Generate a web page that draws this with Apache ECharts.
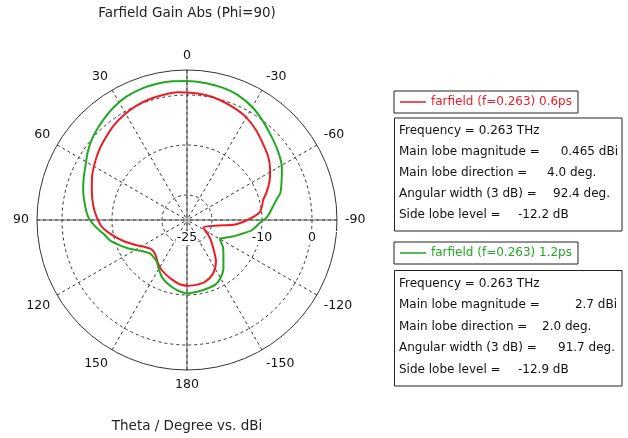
<!DOCTYPE html>
<html>
<head>
<meta charset="utf-8">
<title>Farfield Gain Abs</title>
<script src="https://cdn.jsdelivr.net/npm/echarts@6/dist/echarts.min.js"></script>
<style>html,body{margin:0;background:#fff;}</style>
</head>
<body>
<div id="main" style="width:628px;height:438px;"></div>
<script type="text/javascript">
// theta in degrees (-180..180), gain in dBi
var thetaRed = [-180, -172, -164, -154, -145, -137, -130, -125, -115, -100, -96, -92, -88, -84, -80, -75, -71, -65, -59, -52, -45, -38, -30, -23, -15, -8, 0, 4, 10, 17, 24, 31, 38, 45, 52, 59, 66, 73, 81, 88, 95, 102, 109, 116, 122, 128, 134, 140, 146, 152, 159, 166, 173, 180];
var gainRed = [-11.8, -11.9, -12.1, -13.1, -14.9, -17.3, -18.8, -19.8, -21.4, -18.6, -15.7, -13.8, -12.0, -10.4, -9.8, -9.2, -8.2, -6.8, -5.6, -4.4, -3.5, -2.4, -1.3, -0.7, -0.1, 0.3, 0.5, 0.6, 0.5, 0.3, 0.0, -0.5, -1.1, -1.9, -2.6, -3.4, -4.2, -5.1, -6.0, -6.9, -8.0, -9.9, -11.8, -13.6, -14.9, -15.7, -15.8, -15.4, -14.6, -13.9, -13.3, -12.7, -12.1, -11.8];

var thetaGreen = [-180, -172, -164, -156, -150, -143, -135, -127, -120, -115, -110, -106, -99, -91, -88, -82, -77, -74, -68, -61, -53, -45, -37, -30, -22, -15, -8, 0, 6, 12, 19, 26, 33, 40, 45, 50, 56, 62, 68, 74, 81, 88, 94, 100, 105, 110, 116, 121, 126, 132, 138, 144, 150, 156, 162, 169, 175, 180];
var gainGreen = [-10.3, -10.5, -10.7, -10.9, -11.6, -12.9, -14.7, -16.0, -17.4, -16.6, -15.3, -14.3, -11.9, -10.1, -9.0, -7.8, -6.6, -5.6, -4.6, -3.3, -2.2, -1.2, 0.0, 1.1, 2.0, 2.4, 2.6, 2.8, 2.9, 2.9, 2.8, 2.5, 1.9, 1.1, 0.5, -0.1, -1.0, -2.0, -2.7, -3.4, -4.3, -5.2, -6.6, -8.2, -9.1, -10.5, -12.0, -13.3, -14.3, -15.0, -15.0, -14.7, -13.7, -12.6, -11.8, -11.1, -10.6, -10.3];

var nameRed = 'farfield (f=0.263) 0.6ps';
var nameGreen = 'farfield (f=0.263) 1.2ps';
var radiusLabels = [-25, -10, 0];
var infoLabels = ['Frequency = ', 'Main lobe magnitude =', 'Main lobe direction =', 'Angular width (3 dB) =', 'Side lobe level ='];
var infoRed = ['0.263 THz', '0.465 dBi', '4.0 deg.', '92.4 deg.', '-12.2 dB'];
var infoGreen = ['0.263 THz', '2.7 dBi', '2.0 deg.', '91.7 deg.', '-12.9 dB'];

var RED = '#ec1c24';
var GREEN = '#22a822';
var FONT = '"DejaVu Sans", Verdana, sans-serif';
var CX = 187, CY = 220;

function toAxis(t) {
    return t < -90 ? t + 360 : t;
}
function buildData(thetas, gains) {
    return thetas.map(function (t, i) {
        return [gains[i], toAxis(t)];
    });
}

// info boxes
function infoBox(top, height, values, valueX, valueAlign, step) {
    var els = [{
        type: 'rect',
        shape: {x: 394.5, y: top + 0.5, width: 227.5, height: height},
        style: {fill: '#fff', stroke: '#222', lineWidth: 1}
    }];
    for (var i = 0; i < infoLabels.length; i++) {
        var y = top + 13.5 + i * step;
        if (valueX[i] === null) {
            els.push({type: 'text', style: {text: infoLabels[i] + values[i], x: 399, y: y,
                font: '12px ' + FONT, fill: '#111', verticalAlign: 'middle'}});
        } else {
            els.push({type: 'text', style: {text: infoLabels[i], x: 399, y: y,
                font: '12px ' + FONT, fill: '#111', verticalAlign: 'middle'}});
            els.push({type: 'text', style: {text: values[i], x: valueX[i], y: y, align: valueAlign[i],
                font: '12px ' + FONT, fill: '#111', verticalAlign: 'middle'}});
        }
    }
    return els;
}

var myChart = echarts.init(document.getElementById('main'));

var option = {
    backgroundColor: '#fff',
    animation: false,
    title: [{
        text: 'Farfield Gain Abs (Phi=90)',
        left: CX, top: 6, padding: 0, textAlign: 'center',
        textStyle: {fontSize: 13.5, fontWeight: 'normal', fontFamily: FONT, color: '#222'}
    }, {
        text: 'Theta / Degree vs. dBi',
        left: CX, top: 419, padding: 0, textAlign: 'center',
        textStyle: {fontSize: 13.5, fontWeight: 'normal', fontFamily: FONT, color: '#222'}
    }],
    legend: [{
        data: [nameRed], left: 394, top: 91,
        padding: [5, 6, 5, 6], borderColor: '#222', borderWidth: 1,
        icon: 'rect', itemWidth: 26, itemHeight: 1.5,
        textStyle: {color: RED, fontSize: 12, fontFamily: FONT}
    }, {
        data: [nameGreen], left: 394, top: 242,
        padding: [5, 6, 5, 6], borderColor: '#222', borderWidth: 1,
        icon: 'rect', itemWidth: 26, itemHeight: 1.5,
        textStyle: {color: GREEN, fontSize: 12, fontFamily: FONT}
    }],
    polar: [
        {center: [CX, CY], radius: 150},
        {center: [CX, CY], radius: [25, 125]},
        {center: [CX, CY], radius: 150}
    ],
    angleAxis: [{
        polarIndex: 0, type: 'value', min: -90, max: 270, interval: 30,
        startAngle: 0, clockwise: false,
        axisLine: {lineStyle: {color: '#333', width: 1}},
        axisTick: {show: false},
        axisLabel: {
            margin: 8, color: '#111', fontSize: 12.5, fontFamily: FONT,
            formatter: function (v) {
                if (v === 270) return '';
                return String(v > 180 ? v - 360 : v);
            }
        },
        splitLine: {lineStyle: {color: '#333', width: 1, type: [3, 3]}}
    }, {
        polarIndex: 1, type: 'value', min: -90, max: 270, startAngle: 0, clockwise: false,
        axisLine: {show: false}, axisTick: {show: false}, axisLabel: {show: false}, splitLine: {show: false}
    }, {
        polarIndex: 2, type: 'value', min: -90, max: 270, interval: 90, startAngle: 0, clockwise: false,
        axisLine: {show: false}, axisTick: {show: false}, axisLabel: {show: false},
        splitLine: {lineStyle: {color: '#555', width: 1, type: 'solid'}}
    }],
    radiusAxis: [{
        polarIndex: 0, type: 'value', min: -25, max: 5, interval: 5, z: 4,
        axisLine: {show: false}, axisTick: {show: false}, splitLine: {show: false},
        axisLabel: {
            margin: -11, verticalAlign: 'top', color: '#111', fontSize: 12.5, fontFamily: FONT,
            backgroundColor: '#fff', padding: [0, 1, 1, 1],
            formatter: function (v) {
                return radiusLabels.indexOf(v) >= 0 ? String(v) : '';
            }
        }
    }, {
        polarIndex: 1, type: 'value', min: -20, max: 0, interval: 10,
        axisLine: {show: false}, axisTick: {show: false}, axisLabel: {show: false},
        splitLine: {show: true, lineStyle: {color: '#333', width: 1, type: [3, 3]}}
    }, {
        polarIndex: 2, type: 'value', min: -25, max: 5,
        axisLine: {show: false}, axisTick: {show: false}, axisLabel: {show: false}, splitLine: {show: false}
    }],
    series: [{
        name: nameRed, type: 'line', coordinateSystem: 'polar', polarIndex: 0,
        data: buildData(thetaRed, gainRed),
        symbol: 'none', z: 5, smooth: 0.25,
        lineStyle: {color: RED, width: 2},
        itemStyle: {color: RED}
    }, {
        name: nameGreen, type: 'line', coordinateSystem: 'polar', polarIndex: 0,
        data: buildData(thetaGreen, gainGreen),
        symbol: 'none', z: 5, smooth: 0.25,
        lineStyle: {color: GREEN, width: 2},
        itemStyle: {color: GREEN}
    }],
    graphic: infoBox(117.5, 113, infoRed, [null, 618, 547, 553, 518], ['', 'right', 'left', 'left', 'left'], 21)
        .concat(infoBox(270, 115.5, infoGreen, [null, 617, 542, 558, 518], ['', 'right', 'left', 'left', 'left'], 21.5))
};

myChart.setOption(option);
</script>
</body>
</html>
